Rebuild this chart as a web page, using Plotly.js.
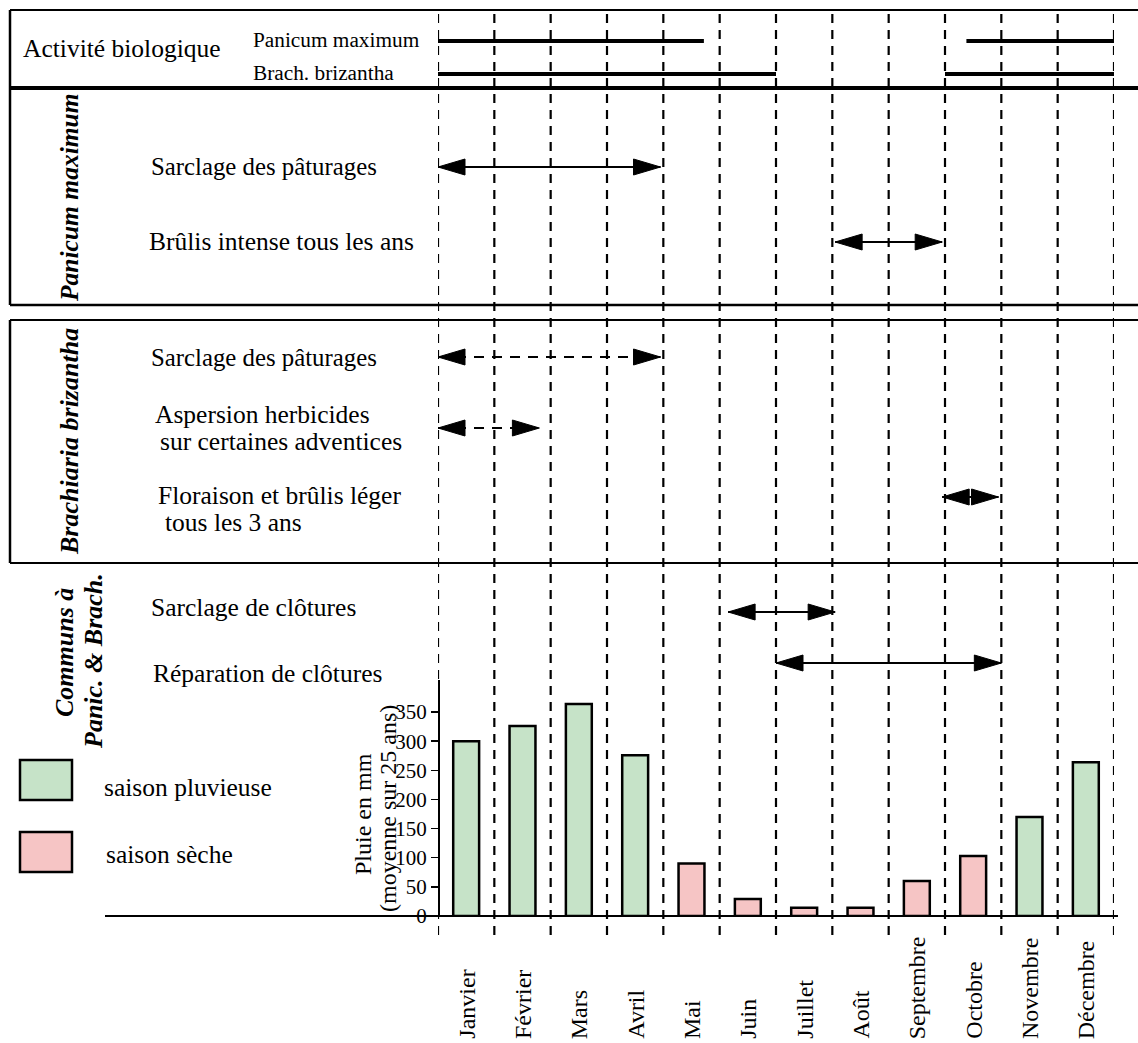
<!DOCTYPE html>
<html><head><meta charset="utf-8">
<script src="https://cdn.plot.ly/plotly-3.0.1.min.js"></script>
<style>html,body{margin:0;padding:0;background:#fff}#chart{width:1138px;height:1043px}</style>
</head><body><div id="chart"></div>
<script>
// ---------- data ----------
const months = ['Janvier','Février','Mars','Avril','Mai','Juin','Juillet','Août','Septembre','Octobre','Novembre','Décembre'];
const rainfall = [300, 326, 364, 276, 90, 29, 14, 14, 60, 103, 170, 264];
const season = ['pluvieuse','pluvieuse','pluvieuse','pluvieuse','sèche','sèche','sèche','sèche','sèche','sèche','pluvieuse','pluvieuse'];
const yTicks = [0, 50, 100, 150, 200, 250, 300, 350];

// periods in months counted from 1 January
const bioPanicum = [[0, 4.72], [9.38, 12]];
const bioBrach = [[0, 6], [9, 12]];
const sarclagePanicum = [0, 3.95];
const brulisIntense = [7.05, 8.95];
const sarclageBrach = [0, 3.95];
const aspersion = [0, 1.8];
const floraison = [8.95, 9.95];
const sarclageClotures = [5.15, 7.05];
const reparationClotures = [6, 10];

// ---------- helpers ----------
const W = 1138, H = 1043;
const px = x => x / W;
const py = y => 1 - y / H;
const FONT = '"Liberation Serif", "Times New Roman", serif';
const seasonColor = {'pluvieuse': '#c6e3c8', 'sèche': '#f6c5c5'};

const shapes = [];
const annotations = [];

function hline(x0, x1, y, w) {
  shapes.push({type:'line', xref:'paper', yref:'paper', x0:px(x0), x1:px(x1), y0:py(y), y1:py(y), line:{color:'#000', width:w}});
}
function vline(x, y0, y1, w) {
  shapes.push({type:'line', xref:'paper', yref:'paper', x0:px(x), x1:px(x), y0:py(y0), y1:py(y1), line:{color:'#000', width:w}});
}
function period(seg, y, w) {
  shapes.push({type:'line', xref:'x', yref:'paper', x0:seg[0]-0.5, x1:seg[1]-0.5, y0:py(y), y1:py(y), line:{color:'#000', width:w}});
}
function arrow(seg, y, dashed) {
  shapes.push({type:'line', xref:'x', yref:'paper', x0:seg[0]-0.5, x1:seg[1]-0.5, y0:py(y), y1:py(y),
    line:{color:'#000', width:2, dash: dashed ? '10px,8px' : 'solid'}});
  shapes.push({type:'path', xref:'x', yref:'paper', xsizemode:'pixel', ysizemode:'pixel',
    xanchor:seg[0]-0.5, yanchor:py(y), path:'M0,0 L27,8 L27,-8 Z', fillcolor:'#000', line:{color:'#000', width:1}});
  shapes.push({type:'path', xref:'x', yref:'paper', xsizemode:'pixel', ysizemode:'pixel',
    xanchor:seg[1]-0.5, yanchor:py(y), path:'M0,0 L-27,8 L-27,-8 Z', fillcolor:'#000', line:{color:'#000', width:1}});
}
function label(text, x, y, size) {
  annotations.push({text:text, xref:'paper', yref:'paper', x:px(x), y:py(y), xanchor:'left', yanchor:'middle',
    showarrow:false, font:{family:FONT, size:size, color:'#000'}});
}
function vlabel(text, x, y, size) {
  annotations.push({text:text, xref:'paper', yref:'paper', x:px(x), y:py(y), xanchor:'center', yanchor:'middle',
    textangle:-90, showarrow:false, font:{family:FONT, size:size, color:'#000'}});
}

// ---------- frames ----------
hline(10, 1138, 10, 2);
hline(10, 1138, 88, 4);
hline(10, 1138, 305, 2.5);
hline(10, 1138, 320, 2);
hline(10, 1138, 563, 2);
vline(10, 10, 305, 2.5);
vline(10, 320, 563, 2.5);
hline(105, 1118, 916, 2);

// month boundaries
for (let i = 0; i <= months.length; i++) {
  shapes.push({type:'line', xref:'x', yref:'paper', x0:i-0.5, x1:i-0.5, y0:py(14), y1:py(940),
    line:{color:'#000', width:2.2, dash:'9px,7px'}});
}

// biological activity
bioPanicum.forEach(s => period(s, 41, 4));
bioBrach.forEach(s => period(s, 74, 4));

// operations
arrow(sarclagePanicum, 167, false);
arrow(brulisIntense, 242, false);
arrow(sarclageBrach, 357, true);
arrow(aspersion, 428, true);
arrow(floraison, 497, false);
arrow(sarclageClotures, 612, false);
arrow(reparationClotures, 663, false);

// legend boxes
shapes.push({type:'rect', xref:'paper', yref:'paper', x0:px(20), x1:px(72), y0:py(800), y1:py(760),
  fillcolor:seasonColor['pluvieuse'], line:{color:'#000', width:2.5}});
shapes.push({type:'rect', xref:'paper', yref:'paper', x0:px(20), x1:px(72), y0:py(872), y1:py(832),
  fillcolor:seasonColor['sèche'], line:{color:'#000', width:2.5}});

// ---------- texts ----------
label('Activité biologique', 21, 48, 25.5);
label('Panicum maximum', 251, 40, 21.3);
label('Brach. brizantha', 251, 73, 21.3);
label('Sarclage des pâturages', 149, 167, 24.8);
label('Brûlis intense tous les ans', 147, 242, 25.5);
label('Sarclage des pâturages', 149, 357, 24.8);
label('Aspersion herbicides', 153, 414, 25.5);
label('sur certaines adventices', 158, 442, 25.5);
label('Floraison et brûlis léger', 156, 495, 25.5);
label('tous les 3 ans', 163, 522, 25.5);
label('Sarclage de clôtures', 149, 607, 25.5);
label('Réparation de clôtures', 151, 673, 25.5);
label('saison pluvieuse', 102, 787, 25.5);
label('saison sèche', 104, 854, 25.5);

vlabel('<b><i>Panicum maximum</i></b>', 70, 198, 25.5);
vlabel('<b><i>Brachiaria brizantha</i></b>', 70, 442, 26);
vlabel('<b><i>Communs à</i></b>', 64, 652, 26);
vlabel('<b><i>Panic. &amp; Brach.</i></b>', 93, 661, 26);

vlabel('Pluie en mm', 363, 814, 24);
vlabel('(moyenne sur 25 ans)', 388, 809, 24);

months.forEach(m => {
  annotations.push({text:m, xref:'x', yref:'paper', x:m, y:py(1041), xanchor:'center', yanchor:'bottom',
    textangle:-90, showarrow:false, font:{family:FONT, size:24, color:'#000'}});
});

// ---------- trace ----------
const trace = {
  type:'bar', x:months, y:rainfall, width:0.46,
  marker:{color:season.map(s => seasonColor[s]), line:{color:'#000', width:2.5}},
  hoverinfo:'x+y', showlegend:false
};

const layout = {
  width:W, height:H, margin:{l:0, r:0, t:0, b:0},
  paper_bgcolor:'#fff', plot_bgcolor:'rgba(0,0,0,0)',
  showlegend:false,
  xaxis:{type:'category', domain:[px(438), px(1114)], range:[-0.5, 11.5], showticklabels:false,
    ticks:'', showline:false, showgrid:false, zeroline:false, fixedrange:true},
  yaxis:{domain:[py(916), py(680)], range:[0, 405], anchor:'free', position:px(438),
    showline:true, linecolor:'#000', linewidth:1.5, ticks:'outside', ticklen:7, tickwidth:1.5, tickcolor:'#000',
    tickvals:yTicks, tickfont:{family:FONT, size:21, color:'#000'}, showgrid:false, zeroline:false, fixedrange:true},
  shapes:shapes,
  annotations:annotations
};

Plotly.newPlot('chart', [trace], layout, {displayModeBar:false, staticPlot:true});
</script>
</body></html>
